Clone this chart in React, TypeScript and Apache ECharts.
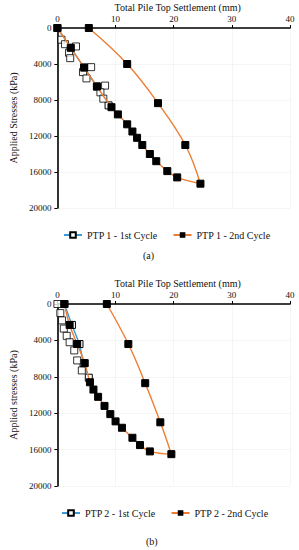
import React, { useEffect, useRef } from "react";
import * as echarts from "echarts";

// Panel (a) — PTP 1
const ptp1FirstLine: number[][] = [[0, 0], [2.3, 2200], [4.6, 4400], [6.8, 6500], [8.8, 8600]];
const ptp1FirstExtra: number[][] = [
  [0.7, 1300], [1.3, 1800], [3.2, 2050], [2.0, 2750], [2.2, 3350], [5.8, 4350],
  [4.4, 4900], [5.0, 5600], [8.2, 6400], [7.4, 7150], [7.9, 7850],
];
const ptp1Second: number[][] = [
  [0, 0], [2.3, 2200], [4.6, 4400], [6.8, 6500], [9.3, 8800], [10.4, 9600], [12.0, 10700],
  [12.9, 11500], [13.7, 12200], [14.6, 13000], [15.9, 14000], [17.0, 14800], [18.9, 15900],
  [20.6, 16600], [24.6, 17300], [22.0, 13000], [17.3, 8350], [12.0, 4000], [5.4, 0],
];

// Panel (b) — PTP 2
const ptp2FirstLine: number[][] = [[1.2, 0], [2.5, 2300], [3.8, 4400], [4.5, 6500], [5.4, 8100]];
const ptp2FirstExtra: number[][] = [
  [0, 0], [0.5, 1000], [0.8, 1800], [1.1, 2700], [1.6, 3500], [2.1, 4200],
  [2.9, 5100], [3.4, 6200], [4.2, 7300],
];
const ptp2Second: number[][] = [
  [1.2, 0], [2.1, 2300], [3.4, 4400], [4.7, 6500], [5.6, 8600], [6.2, 9400], [7.0, 10200],
  [8.1, 11200], [9.1, 12100], [10.0, 12900], [11.1, 13600], [12.9, 14700], [14.2, 15500],
  [15.9, 16200], [19.6, 16500], [17.7, 13000], [15.1, 8700], [12.2, 4400], [8.5, 0],
];

const xName = "Total Pile Top Settlement (mm)";
const yNames = ["Applied Stresses (kPa)", "Applied stresses (kPa)"];
const seriesNames = [
  ["PTP 1 - 1st Cycle", "PTP 1 - 2nd Cycle"],
  ["PTP 2 - 1st Cycle", "PTP 2 - 2nd Cycle"],
];
const panelLabels = ["(a)", "(b)"];

const FONT = "'Liberation Serif', 'Times New Roman', serif";
const TXT = "#111";
const BLUE = "#3d9ad6";
const ORANGE = "#ed7d31";

export default function App() {
  const ref = useRef<HTMLDivElement>(null);
  useEffect(() => {
    if (!ref.current) return;
    const chart = echarts.init(ref.current, null, { renderer: "svg" });
    const grids = [
      { left: 49, top: 28, width: 241, height: 180 },
      { left: 48, top: 304, width: 242, height: 182 },
    ];
    const xAxes = grids.map((_, i) => ({
      type: "value",
      gridIndex: i,
      position: "top",
      min: 0,
      max: 40,
      interval: 10,
      name: xName,
      nameLocation: "middle",
      nameGap: 16,
      nameTextStyle: { fontFamily: FONT, fontSize: 10, color: TXT, padding: [0, 0, 0, 8] },
      axisLine: { show: true, onZero: false, lineStyle: { color: "#000", width: 1.6 } },
      axisTick: { show: true, length: 3, lineStyle: { color: "#000" } },
      axisLabel: { fontFamily: FONT, fontSize: 9, color: TXT, margin: 5, formatter: (v: number) => String(v) },
      splitLine: { show: true, lineStyle: { color: "#eeeeee", width: 0.6 } },
    }));
    const yAxes = grids.map((_, i) => ({
      type: "value",
      gridIndex: i,
      inverse: true,
      min: 0,
      max: 20000,
      interval: 4000,
      name: yNames[i],
      nameLocation: "middle",
      nameGap: 39,
      nameTextStyle: { fontFamily: FONT, fontSize: 10, color: TXT },
      axisLine: { show: true, onZero: false, lineStyle: { color: "#000", width: 1.6 } },
      axisTick: { show: true, length: 3, lineStyle: { color: "#000" } },
      axisLabel: { fontFamily: FONT, fontSize: 9, color: TXT, margin: 6, formatter: (v: number) => String(v) },
      splitLine: { show: true, lineStyle: { color: "#eeeeee", width: 0.6 } },
    }));
    const openSq = { color: "#fff", borderColor: "#000", borderWidth: 1 };
    const mk = (i: number, firstLine: number[][], extra: number[][], second: number[][]) => [
      {
        name: seriesNames[i][0],
        type: "line",
        xAxisIndex: i,
        yAxisIndex: i,
        data: firstLine,
        symbol: "rect",
        symbolSize: 7,
        lineStyle: { color: BLUE, width: 1.4 },
        itemStyle: openSq,
        z: 2,
      },
      {
        name: seriesNames[i][0] + " pts",
        type: "scatter",
        xAxisIndex: i,
        yAxisIndex: i,
        data: extra,
        symbol: "rect",
        symbolSize: 7,
        itemStyle: openSq,
        z: 3,
      },
      {
        name: seriesNames[i][1],
        type: "line",
        xAxisIndex: i,
        yAxisIndex: i,
        data: second,
        smooth: 0.4,
        symbol: "rect",
        symbolSize: 7,
        lineStyle: { color: ORANGE, width: 1.4 },
        itemStyle: { color: "#000", borderColor: "#000" },
        z: 4,
      },
    ];
    const legendBase = {
      orient: "horizontal",
      itemWidth: 18,
      itemHeight: 7,
      itemGap: 15,
      textStyle: { fontFamily: FONT, fontSize: 10, color: TXT },
    };
    chart.setOption({
      animation: false,
      grid: grids,
      xAxis: xAxes,
      yAxis: yAxes,
      legend: [
        { ...legendBase, data: seriesNames[0], left: 58, top: 225 },
        { ...legendBase, data: seriesNames[1], left: 56, top: 503 },
      ],
      series: [
        ...mk(0, ptp1FirstLine, ptp1FirstExtra, ptp1Second),
        ...mk(1, ptp2FirstLine, ptp2FirstExtra, ptp2Second),
      ],
      graphic: [
        {
          type: "text",
          left: 143,
          top: 250,
          style: { text: panelLabels[0], fontFamily: FONT, fontSize: 10, fill: TXT },
        },
        {
          type: "text",
          left: 146,
          top: 536,
          style: { text: panelLabels[1], fontFamily: FONT, fontSize: 10, fill: TXT },
        },
      ],
    });
    return () => chart.dispose();
  }, []);
  return (
    <div
      ref={ref}
      style={{ position: "fixed", left: 0, top: 0, width: 299, height: 550, background: "#fff" }}
    />
  );
}
